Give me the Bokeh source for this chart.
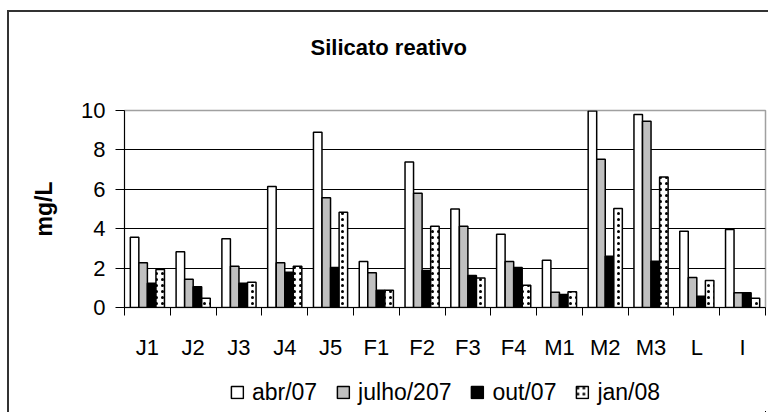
import numpy as np
from bokeh.plotting import figure
from bokeh.layouts import column
from bokeh.models import (ColumnDataSource, Range1d, FixedTicker, Legend, LegendItem, Title)
from bokeh.embed import file_html
from bokeh.resources import INLINE

categories = ["J1", "J2", "J3", "J4", "J5", "F1", "F2", "F3", "F4", "M1", "M2", "M3", "L", "I"]
abr07 = [3.57, 2.83, 3.49, 6.14, 8.9, 2.33, 7.38, 5.0, 3.72, 2.4, 9.97, 9.8, 3.87, 3.96]
julho207 = [2.27, 1.44, 2.1, 2.27, 5.57, 1.76, 5.8, 4.13, 2.33, 0.78, 7.53, 9.46, 1.52, 0.75]
out07 = [1.23, 1.05, 1.23, 1.79, 2.03, 0.88, 1.88, 1.62, 2.03, 0.66, 2.6, 2.35, 0.57, 0.75]
jan08 = [1.93, 0.47, 1.28, 2.1, 4.84, 0.88, 4.13, 1.5, 1.13, 0.8, 5.03, 6.63, 1.37, 0.47]
series_names = ["abr/07", "julho/207", "out/07", "jan/08"]
y_ticks = [0, 2, 4, 6, 8, 10]

FONT = "Liberation Sans"
W = 759

p = figure(width=W, height=360, output_backend="svg", toolbar_location=None,
           x_range=Range1d(0, len(categories)), y_range=Range1d(0, 10),
           min_border_left=115, min_border_right=3, min_border_top=98, min_border_bottom=65)

centers = np.arange(len(categories)) + 0.5
offsets = [-0.28, -0.093, 0.093, 0.28]
bw = 0.186
values = [abr07, julho207, out07, jan08]
fills = ["white", "#c0c0c0", "black", "white"]
sources = [ColumnDataSource(dict(x=centers + offsets[k], top=vals)) for k, vals in enumerate(values)]

def bar_style(k):
    kw = dict(fill_color=fills[k], line_color="black", line_width=1.5)
    if k == 3:
        kw.update(hatch_pattern="dot", hatch_color="black", hatch_scale=6, hatch_weight=1.5)
    return kw

for k, src in enumerate(sources):
    p.vbar(x="x", top="top", width=bw, bottom=0, source=src, **bar_style(k))

# axes
p.xgrid.visible = False
p.ygrid.ticker = FixedTicker(ticks=[2, 4, 6, 8])
p.ygrid.grid_line_color = "black"
p.ygrid.grid_line_width = 1
p.outline_line_color = "#a0a0a0"
p.outline_line_width = 1.5

p.yaxis.ticker = FixedTicker(ticks=y_ticks)
p.yaxis.major_tick_out = 9
p.yaxis.major_tick_in = 0
p.yaxis.minor_tick_out = 0
p.yaxis.axis_line_color = "black"
p.yaxis.major_label_text_font = FONT
p.yaxis.major_label_text_font_size = "22px"
p.yaxis.major_label_text_color = "black"
p.yaxis.major_label_standoff = 10
p.yaxis.axis_label = "mg/L"
p.yaxis.axis_label_text_font = FONT
p.yaxis.axis_label_text_font_size = "23px"
p.yaxis.axis_label_text_font_style = "bold"
p.yaxis.axis_label_text_color = "black"
p.yaxis.axis_label_standoff = 21

p.xaxis.ticker = FixedTicker(ticks=list(centers), minor_ticks=list(range(len(categories) + 1)))
p.xaxis.major_label_overrides = {float(c): name for c, name in zip(centers, categories)}
p.xaxis.major_tick_out = 0
p.xaxis.major_tick_in = 0
p.xaxis.minor_tick_out = 8
p.xaxis.minor_tick_in = 0
p.xaxis.axis_line_color = "black"
p.xaxis.major_label_text_font = FONT
p.xaxis.major_label_text_font_size = "22px"
p.xaxis.major_label_text_color = "black"
p.xaxis.major_label_standoff = 19

# title with a spacer between it and the frame
p.title.text = "Silicato reativo"
p.title.align = "left"
p.title.offset = 186
p.title.text_font = FONT
p.title.text_font_size = "22px"
p.title.text_font_style = "bold"
p.title.text_color = "black"
p.title.standoff = 10
p.add_layout(Title(text=" ", text_font_size="2px", standoff=42), "above")

# legend strip below the chart: its ranges keep the bars out of view,
# so only the legend is shown
lf = figure(width=W, height=40, output_backend="svg", toolbar_location=None,
            x_range=Range1d(-60, -46), y_range=Range1d(100, 101),
            min_border_left=115, min_border_right=3, min_border_top=0, min_border_bottom=0)
lf.axis.visible = False
lf.grid.visible = False
lf.outline_line_color = None
leg_renderers = []
for k, src in enumerate(sources):
    leg_renderers.append(lf.vbar(x="x", top="top", width=bw, bottom=0, source=src, **bar_style(k)))

legend = Legend(items=[LegendItem(label=n, renderers=[r]) for n, r in zip(series_names, leg_renderers)],
                orientation="horizontal", location="center")
legend.label_text_font = FONT
legend.label_text_font_size = "23px"
legend.label_text_color = "black"
legend.glyph_width = 15
legend.glyph_height = 15
legend.label_standoff = 8
legend.spacing = 18
legend.border_line_color = None
legend.background_fill_alpha = 0
legend.margin = 0
legend.padding = 2
lf.add_layout(legend)

layout = column(p, lf, spacing=0,
                styles={"margin-left": "7px", "margin-top": "10px",
                        "border-left": "2px solid #333333", "border-top": "2px solid #333333"})

open("out.html", "w").write(file_html(layout, INLINE))
